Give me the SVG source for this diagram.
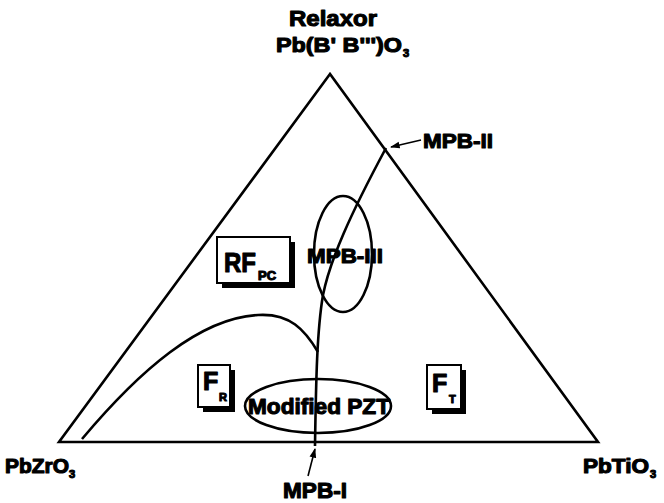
<svg xmlns="http://www.w3.org/2000/svg" width="664" height="503" viewBox="0 0 664 503">
<style>
  .t { font-family: "Liberation Sans", Arial, sans-serif; font-weight: bold; fill: #000; stroke: #000; stroke-width: 1.1; stroke-linejoin: round; }
  .ln { fill: none; stroke: #000; stroke-width: 2.6; stroke-linejoin: miter; }
  .thin { fill: none; stroke: #000; stroke-width: 1.6; }
  .box { fill: #fff; stroke: #000; stroke-width: 2; }
  .sh { fill: #000; }
</style>
<defs>
  <marker id="ah" viewBox="0 0 10 10" refX="9" refY="5" markerWidth="6" markerHeight="6" orient="auto">
    <path d="M0,1.5 L10,5 L0,8.5 Z" fill="#000"/>
  </marker>
</defs>
<rect width="664" height="503" fill="#fff"/>
<g id="connectors">
  <path class="ln" d="M330,74 L59,442 L598,442 Z"/>
  <path class="ln" d="M82,439 C140,370 200,318 258,315 C290,313 305,330 318,352"/>
  <path class="ln" d="M315,446 C316,380 317,330 323,295 C330,260 350,215 386,148"/>
  <path class="thin" d="M421,140 L391,147" marker-end="url(#ah)"/>
  <path class="thin" d="M308,476 L315,449" marker-end="url(#ah)"/>
</g>
<g id="relaxor">
  <text class="t" x="333" y="26" font-size="22" text-anchor="middle" textLength="88" lengthAdjust="spacingAndGlyphs">Relaxor</text>
  <text class="t" x="276" y="52" font-size="21" textLength="126" lengthAdjust="spacingAndGlyphs">Pb(B' B''')O</text>
  <text class="t" x="403" y="57" font-size="11">3</text>
</g>
<g id="pbzro3">
  <text class="t" x="5" y="473" font-size="20" textLength="64" lengthAdjust="spacingAndGlyphs">PbZrO</text>
  <text class="t" x="69" y="478" font-size="11">3</text>
</g>
<g id="pbtio3">
  <text class="t" x="583" y="473" font-size="20" textLength="66" lengthAdjust="spacingAndGlyphs">PbTiO</text>
  <text class="t" x="650" y="478" font-size="11">3</text>
</g>
<g id="mpb-i">
  <text class="t" x="283" y="498" font-size="22" textLength="64" lengthAdjust="spacingAndGlyphs">MPB-I</text>
</g>
<g id="mpb-ii">
  <text class="t" x="423" y="148" font-size="21" textLength="70" lengthAdjust="spacingAndGlyphs">MPB-II</text>
</g>
<g id="mpb-iii">
  <ellipse class="ln" cx="343" cy="254" rx="29" ry="58"/>
  <text class="t" x="307" y="263" font-size="21" textLength="76" lengthAdjust="spacingAndGlyphs">MPB-III</text>
</g>
<g id="rf-pc">
  <rect class="sh" x="222" y="242" width="73" height="46"/>
  <rect class="box" x="217" y="237" width="73" height="46"/>
  <text class="t" x="224" y="272" font-size="27" textLength="32" lengthAdjust="spacingAndGlyphs">RF</text>
  <text class="t" x="258" y="280" font-size="12" textLength="18" lengthAdjust="spacingAndGlyphs">PC</text>
</g>
<g id="f-r">
  <rect class="sh" x="203" y="370" width="32" height="42"/>
  <rect class="box" x="198" y="365" width="32" height="42"/>
  <text class="t" x="203" y="390" font-size="25">F</text>
  <text class="t" x="219" y="401" font-size="11">R</text>
</g>
<g id="f-t">
  <rect class="sh" x="432" y="370" width="34" height="44"/>
  <rect class="box" x="427" y="365" width="34" height="44"/>
  <text class="t" x="432" y="392" font-size="25">F</text>
  <text class="t" x="449" y="403" font-size="11">T</text>
</g>
<g id="modified-pzt">
  <ellipse class="ln" cx="318" cy="406" rx="73" ry="27"/>
  <text class="t" x="248" y="414" font-size="22" textLength="142" lengthAdjust="spacingAndGlyphs">Modified PZT</text>
</g>
</svg>
